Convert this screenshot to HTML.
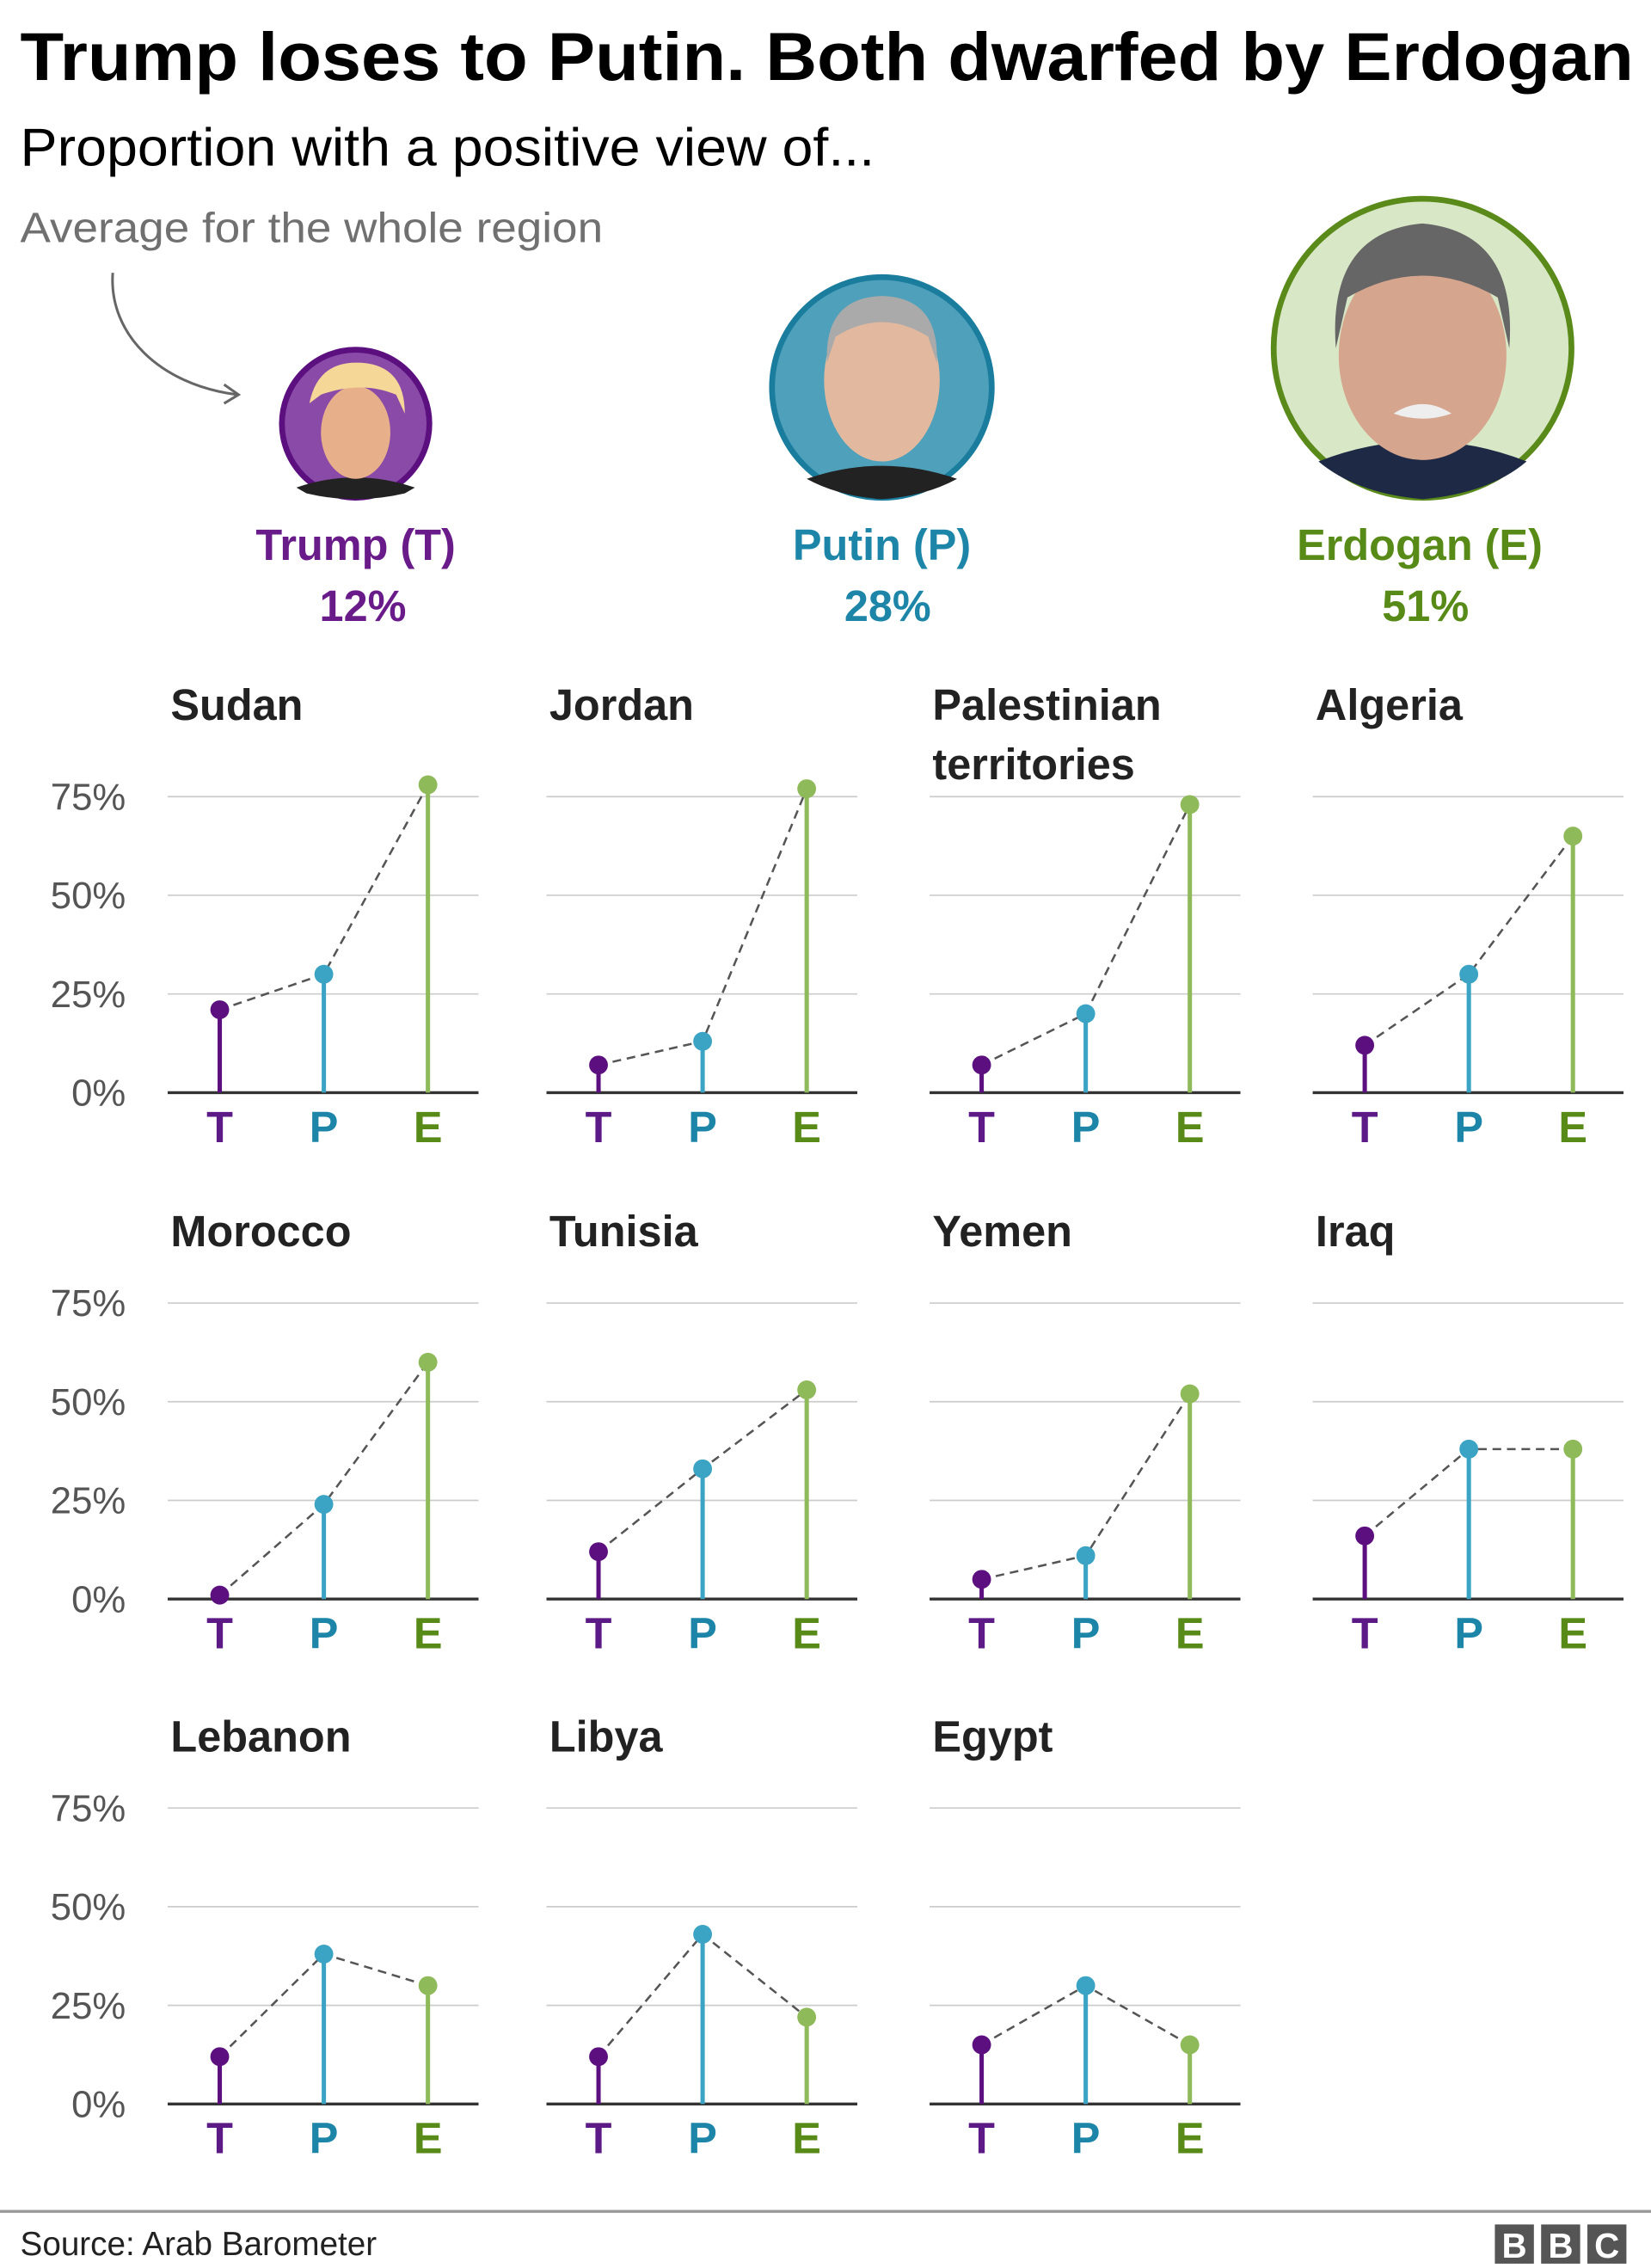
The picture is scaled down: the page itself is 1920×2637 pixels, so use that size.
<!DOCTYPE html>
<html><head><meta charset="utf-8"><style>
html,body{margin:0;padding:0;background:#fff;}
svg{display:block;font-family:"Liberation Sans",Arial,sans-serif;}
</style></head><body>
<svg id="chart" width="1920" height="2637" viewBox="0 0 1142 1563" preserveAspectRatio="none" xmlns="http://www.w3.org/2000/svg">
<text x="14" y="55" font-size="47" font-weight="bold" fill="#000" textLength="1116" lengthAdjust="spacingAndGlyphs">Trump loses to Putin. Both dwarfed by Erdogan</text>
<text x="14" y="114" font-size="37" fill="#000" textLength="591" lengthAdjust="spacingAndGlyphs">Proportion with a positive view of...</text>
<text x="14" y="167" font-size="29" fill="#707070" textLength="403" lengthAdjust="spacingAndGlyphs">Average for the whole region</text>
<path d="M78 188 C75 230 110 265 164 272" fill="none" stroke="#666" stroke-width="1.8"/>
<path d="M155 265 L165 272 L155 278" fill="none" stroke="#666" stroke-width="1.8"/>

<g>
<circle cx="246" cy="292" r="51" fill="#8a4aa8" stroke="#5c0f7f" stroke-width="4"/>
<path d="M205 336 Q246 322 287 336 L280 340 Q246 348 212 340Z" fill="#222"/>
<ellipse cx="246" cy="298" rx="24" ry="32" fill="#e8b08a"/>
<path d="M214 278 Q220 248 250 250 Q280 252 280 285 L274 272 Q250 262 222 272Z" fill="#f5d898"/>
</g>
<g>
<circle cx="610" cy="267" r="76" fill="#4fa0bb" stroke="#1a7d9e" stroke-width="4"/>
<path d="M558 330 Q610 312 662 330 Q640 342 610 344 Q580 342 558 330Z" fill="#222"/>
<ellipse cx="610" cy="262" rx="40" ry="56" fill="#e2b99e"/>
<path d="M572 250 Q570 205 610 204 Q650 205 648 250 L642 232 Q610 212 578 232Z" fill="#aaa"/>
</g>
<g>
<circle cx="984" cy="240" r="103" fill="#d8e7c6" stroke="#5a8a1a" stroke-width="4"/>
<path d="M912 318 Q984 290 1056 318 Q1030 340 984 344 Q938 340 912 318Z" fill="#1e2a45"/>
<ellipse cx="984" cy="245" rx="58" ry="72" fill="#d6a58e"/>
<path d="M924 240 Q918 160 984 154 Q1050 160 1044 240 L1036 205 Q984 175 932 205Z" fill="#666"/>
<path d="M964 285 Q984 272 1004 285 Q984 292 964 285Z" fill="#eee"/>
</g>

<text x="246" y="386" font-size="30" font-weight="bold" fill="#6a1b8a" text-anchor="middle">Trump (T)</text>
<text x="251" y="428" font-size="30" font-weight="bold" fill="#6a1b8a" text-anchor="middle">12%</text>
<text x="610" y="386" font-size="30" font-weight="bold" fill="#1d86a8" text-anchor="middle">Putin (P)</text>
<text x="614" y="428" font-size="30" font-weight="bold" fill="#1d86a8" text-anchor="middle">28%</text>
<text x="982" y="386" font-size="30" font-weight="bold" fill="#588a17" text-anchor="middle">Erdogan (E)</text>
<text x="986" y="428" font-size="30" font-weight="bold" fill="#588a17" text-anchor="middle">51%</text>

<g id="panels"></g>

<line x1="0" y1="1524" x2="1142" y2="1524" stroke="#999" stroke-width="2"/>
<text x="14" y="1554" font-size="23" fill="#222">Source: Arab Barometer</text>
<g>
<rect x="1034" y="1533" width="27" height="27" fill="#555"/><rect x="1066" y="1533" width="27" height="27" fill="#555"/><rect x="1098" y="1533" width="27" height="27" fill="#555"/>
<text x="1047.5" y="1556" font-size="24" font-weight="bold" fill="#fff" text-anchor="middle">B</text>
<text x="1079.5" y="1556" font-size="24" font-weight="bold" fill="#fff" text-anchor="middle">B</text>
<text x="1111.5" y="1556" font-size="24" font-weight="bold" fill="#fff" text-anchor="middle">C</text>
</g>
</svg>
<script>
const countries=["Sudan","Jordan","Palestinian territories","Algeria","Morocco","Tunisia","Yemen","Iraq","Lebanon","Libya","Egypt"];
const trumpVals=[21,7,7,12,1,12,5,16,12,12,15];
const putinVals=[30,13,20,30,24,33,11,38,38,43,30];
const erdoganVals=[78,77,73,65,60,53,52,38,30,22,15];
const tickVals=[0,25,50,75];
const tickLabels=["0%","25%","50%","75%"];
const letters=["T","P","E"];
const stemColors=["#5c0f7f","#3ba3c3","#8fba5a"];
const letterColors=["#5c1a87","#1d86a8","#588a17"];
const NS="http://www.w3.org/2000/svg";
const g=document.getElementById('panels');
const colX=[116,378,643,908], rowBase=[753,1102,1450], titleY=[496,859,1207], W=215;
function y(v,base){return base-v*(204/75);}
function mk(t,a,p){const e=document.createElementNS(NS,t);for(const k in a)e.setAttribute(k,a[k]);(p||g).appendChild(e);return e;}
countries.forEach((c,i)=>{
  const row=Math.floor(i/4), cx=colX[i%4], base=rowBase[row];
  const pg=mk('g',{});
  
  
  const words=c==="Palestinian territories"?["Palestinian","territories"]:[c];
  words.forEach((w,k)=>{const t=mk('text',{x:cx+2,y:titleY[row]+k*41,'font-size':30,'font-weight':'bold',fill:'#222'},pg);t.textContent=w;
    
    });
  tickVals.forEach((v,k)=>{
    if(v>0)mk('line',{x1:cx,x2:cx+W,y1:y(v,base),y2:y(v,base),stroke:'#ccc','stroke-width':1},pg);
    if(i%4===0){const t=mk('text',{x:87,y:y(v,base)+9,'font-size':26,fill:'#555','text-anchor':'end'},pg);t.textContent=tickLabels[k];
      
      }
  });
  mk('line',{x1:cx,x2:cx+W,y1:base,y2:base,stroke:'#333','stroke-width':2},pg);
  const vals=[trumpVals[i],putinVals[i],erdoganVals[i]];
  const xs=[cx+36,cx+108,cx+180];
  const pts=vals.map((v,k)=>xs[k]+','+y(v,base)).join(' ');
  const pl=mk('polyline',{points:pts,fill:'none',stroke:'#555','stroke-width':1.5,'stroke-dasharray':'6,4'},pg);
  
  
  vals.forEach((v,k)=>{
    const s=mk('line',{x1:xs[k],x2:xs[k],y1:base,y2:y(v,base),stroke:stemColors[k],'stroke-width':3},pg);
    
    
    const d=mk('circle',{cx:xs[k],cy:y(v,base),r:6.5,fill:stemColors[k]},pg);
    
    
    const t=mk('text',{x:xs[k],y:base+34,'font-size':30,'font-weight':'bold',fill:letterColors[k],'text-anchor':'middle'},pg);
    t.textContent=letters[k];
    
    
  });
});
</script>
</body></html>
